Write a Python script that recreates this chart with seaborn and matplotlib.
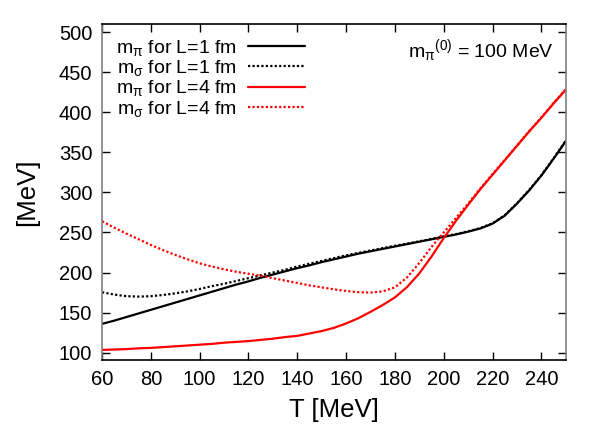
import numpy as np
import pandas as pd
import matplotlib
matplotlib.use("Agg")
import matplotlib.pyplot as plt
import seaborn as sns

# temperature grid [MeV]
T = [60, 65, 70, 75, 80, 85, 90, 95, 100, 105, 110, 115, 120, 125, 130,
     135, 140, 145, 150, 155, 160, 165, 170, 175, 180, 185, 190, 195, 200,
     205, 210, 215, 220, 225, 230, 235, 240, 245, 250]

# m_pi, L=1 fm
mpi_L1 = [136, 140, 144.5, 149, 153.5, 158, 162.5, 167, 171.5, 176, 180.5,
          185, 189, 193.5, 197.5, 201.5, 205.5, 209, 213, 216.5, 220, 223.5,
          226.5, 229.5, 232.5, 235.5, 238.5, 241.5, 244.5, 247.5, 251, 255,
          261, 271, 286, 302.5, 321, 342, 364]
# m_sigma, L=1 fm
msig_L1 = [175.5, 172.5, 170.5, 170, 170.5, 172, 174, 176.5, 179.5, 183, 186,
           189.5, 193, 196.5, 200, 203.5, 207.5, 211, 214.5, 218, 221.5, 224.5,
           227.5, 230.5, 233.5, 236, 239, 242, 245, 248, 251.5, 255.5, 261.5,
           271.5, 286.5, 303, 321.5, 342.5, 364.5]
# m_pi, L=4 fm
mpi_L4 = [103.5, 104, 104.5, 105.5, 106, 107, 108, 109, 110, 111, 112.5, 113.5,
          114.5, 116, 117.5, 119.5, 121, 124, 127, 131, 136.5, 143, 151, 159.5,
          169, 182, 199, 220, 243, 264.5, 284.5, 304, 322, 340, 358, 376,
          393, 411, 428]
# m_sigma, L=4 fm
msig_L4 = [264, 256, 248.5, 241.5, 234.5, 228, 222, 216.5, 211.5, 207.5, 204,
           201, 198.5, 196, 193, 190, 187, 184, 181.5, 179, 177, 175.5, 175,
           176.5, 181.5, 194, 212, 232, 250, 268, 286, 305, 323, 340.5, 358.5,
           376.5, 393.5, 411.5, 428.5]

labels = [r"m$_\pi$ for L=1 fm", r"m$_\sigma$ for L=1 fm",
          r"m$_\pi$ for L=4 fm", r"m$_\sigma$ for L=4 fm"]

sns.set_style("ticks")
plt.rcParams["font.family"] = ["Liberation Sans", "DejaVu Sans"]
plt.rcParams["mathtext.default"] = "regular"
plt.rcParams["text.color"] = "black"
plt.rcParams["axes.labelcolor"] = "black"

fig = plt.figure(figsize=(6, 4.29), dpi=100)
ax = fig.add_axes([0.17, 0.161, 0.773, 0.783])

dotted = (0, (1, 1))
series = [(mpi_L1, "black", "-"), (msig_L1, "black", dotted),
          (mpi_L4, "red", "-"), (msig_L4, "red", dotted)]
for (vals, col, ls), lab in zip(series, labels):
    df = pd.DataFrame({"T": T, "m": vals})
    sns.lineplot(data=df, x="T", y="m", ax=ax, color=col, linestyle=ls,
                 linewidth=1.6, label=lab)

leg = ax.legend(loc="upper left", bbox_to_anchor=(0.0, 1.0), frameon=False,
                markerfirst=False, fontsize=14, handlelength=2.9,
                labelspacing=0.02, borderaxespad=0.3, handletextpad=0.6)

ax.text(0.975, 0.92, r"m$_\pi$$^{(0)}$ = 100 MeV", transform=ax.transAxes,
        ha="right", va="center", fontsize=14)

ax.set_xlim(60, 250)
ax.set_ylim(91, 510)
ax.set_xticks(np.arange(60, 241, 20))
ax.set_yticks(np.arange(100, 501, 50))
ax.tick_params(direction="in", length=6, width=1, labelsize=14.5,
               top=True, right=True, pad=7, color="black", labelcolor="black")
ax.set_xlabel("T [MeV]", fontsize=18.5, labelpad=7)
ax.set_ylabel("[MeV]", fontsize=18.5, labelpad=14)

for s in ["left", "right"]:
    ax.spines[s].set_color("#808080")
    ax.spines[s].set_linewidth(1.2)
for s in ["top", "bottom"]:
    ax.spines[s].set_color("black")
    ax.spines[s].set_linewidth(1.2)

fig.savefig("out.png", dpi=100)
